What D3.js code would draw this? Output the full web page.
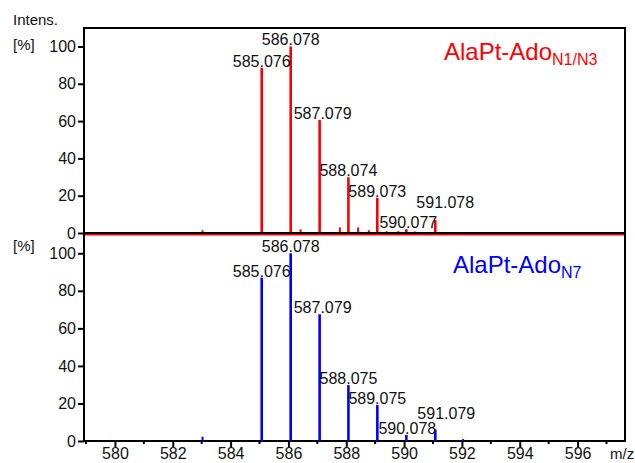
<!DOCTYPE html>
<html>
<head>
<meta charset="utf-8">
<script src="https://cdn.jsdelivr.net/npm/d3@7"></script>
<style>
  body { margin: 0; background: #fff; }
  svg { display: block; font-family: "Liberation Sans", Arial, sans-serif; }
</style>
</head>
<body>
<div id="chart"></div>
<script>
// labelled peaks, top spectrum (N1/N3)
const redLabels = ["585.076", "586.078", "587.079", "588.074", "589.073", "590.077", "591.078"]
const redInt = [88.6, 100, 60.6, 29.9, 18.9, 2, 7]
// small unlabelled peaks, top spectrum
const redMinorMz = [583.03, 586.42, 587.78, 588.41, 588.78, 589.4, 589.8, 590.37]
const redMinorInt = [1.5, 2, 3, 3, 1.5, 1, 1, 0.8]

// labelled peaks, bottom spectrum (N7)
const blueLabels = ["585.076", "586.078", "587.079", "588.075", "589.075", "590.078", "591.079"]
const blueInt = [87, 100, 67.5, 29.8, 19.2, 3.2, 6.2]
const blueMinorMz = [583.03, 592.04]
const blueMinorInt = [2.3, 1]

const xTicks = [580, 582, 584, 586, 588, 590, 592, 594, 596]
const xMinorTicks = [579, 581, 583, 585, 587, 589, 591, 593, 595, 597]
const yTicks = [0, 20, 40, 60, 80, 100]

const width = 635
const height = 463
const left = 84
const right = 625

const svg = d3.select("#chart").append("svg")
    .attr("width", width)
    .attr("height", height)

const x = d3.scaleLinear().domain([578.93, 597.64]).range([left, right])

// label tweaks where the instrument software pushed labels aside
const nudge = {
    "587.079": [3, 0],
    "590.077": [2, 0],
    "590.078": [1, 0],
    "591.078": [10, -11],
    "591.079": [11, -9]
}

function panel(top, bottom, yMax, labels, ints, minorMz, minorInt, color, sub, titleX, titleY) {
    const y = d3.scaleLinear().domain([0, yMax]).range([bottom, top])
    const g = svg.append("g")

    // frame
    g.append("rect")
        .attr("x", left).attr("y", top)
        .attr("width", right - left).attr("height", bottom - top)
        .attr("fill", "none").attr("stroke", "#000").attr("stroke-width", 2)

    // y axis
    const yAxis = g.append("g")
        .attr("transform", "translate(" + left + ",0)")
        .call(d3.axisLeft(y).tickValues(yTicks).tickSize(6).tickPadding(2))
    yAxis.select(".domain").remove()
    yAxis.selectAll("line").attr("stroke-width", 2)
    yAxis.selectAll("text").attr("font-size", 16).attr("fill", "#111")
        .attr("font-family", "Liberation Sans, Arial, sans-serif")

    // peaks
    const peaks = labels.map((l, i) => ({ mz: +l, int: ints[i], label: l }))
    const minor = minorMz.map((m, i) => ({ mz: m, int: minorInt[i] }))
    g.selectAll(".minor").data(minor).enter().append("line")
        .attr("x1", d => x(d.mz)).attr("x2", d => x(d.mz))
        .attr("y1", y(0)).attr("y2", d => y(d.int))
        .attr("stroke", color).attr("stroke-width", 2)
    g.selectAll(".peak").data(peaks).enter().append("line")
        .attr("x1", d => x(d.mz)).attr("x2", d => x(d.mz))
        .attr("y1", y(0)).attr("y2", d => y(d.int))
        .attr("stroke", color).attr("stroke-width", 2.6)

    g.selectAll(".plabel").data(peaks).enter().append("text")
        .attr("x", d => x(d.mz) + (nudge[d.label] ? nudge[d.label][0] : 0))
        .attr("y", d => y(d.int) - 1 + (nudge[d.label] ? nudge[d.label][1] : 0))
        .attr("text-anchor", "middle")
        .attr("font-size", 16)
        .attr("fill", "#111")
        .text(d => d.label)

    // title
    const t = g.append("text")
        .attr("x", titleX).attr("y", titleY)
        .attr("fill", color).attr("font-size", 24)
    t.append("tspan").text("AlaPt-Ado")
    t.append("tspan").attr("font-size", 16).attr("dy", 5).text(sub)

    g.append("text").attr("x", 13).attr("y", top === 28 ? 50 : 251)
        .attr("font-size", 15).attr("fill", "#111").text("[%]")

    return y
}

const yTop = panel(28, 233, 109.9, redLabels, redInt, redMinorMz, redMinorInt, "#ff0000", "N1/N3", 444, 60)
// red baseline of the top trace sits just under the axis
svg.append("line")
    .attr("x1", left).attr("x2", right)
    .attr("y1", yTop(0) + 1.5).attr("y2", yTop(0) + 1.5)
    .attr("stroke", "#ff0000").attr("stroke-width", 2)

panel(233, 441, 110.8, blueLabels, blueInt, blueMinorMz, blueMinorInt, "#0000ff", "N7", 453, 273)

// x axis
const xAxis = svg.append("g")
    .attr("transform", "translate(0,441)")
    .call(d3.axisBottom(x).tickValues(xTicks).tickSize(6).tickPadding(1).tickFormat(d3.format("d")))
xAxis.select(".domain").remove()
xAxis.selectAll("line").attr("stroke-width", 2)
xAxis.selectAll("text").attr("font-size", 16).attr("fill", "#111")
    .attr("font-family", "Liberation Sans, Arial, sans-serif")

svg.append("g").selectAll("line").data(xMinorTicks).enter().append("line")
    .attr("x1", d => x(d)).attr("x2", d => x(d))
    .attr("y1", 441).attr("y2", 444)
    .attr("stroke", "#000").attr("stroke-width", 2)

svg.append("text").attr("x", 610).attr("y", 459)
    .attr("font-size", 15).attr("fill", "#111").text("m/z")
svg.append("text").attr("x", 13).attr("y", 25)
    .attr("font-size", 15).attr("fill", "#111").text("Intens.")
</script>
</body>
</html>
